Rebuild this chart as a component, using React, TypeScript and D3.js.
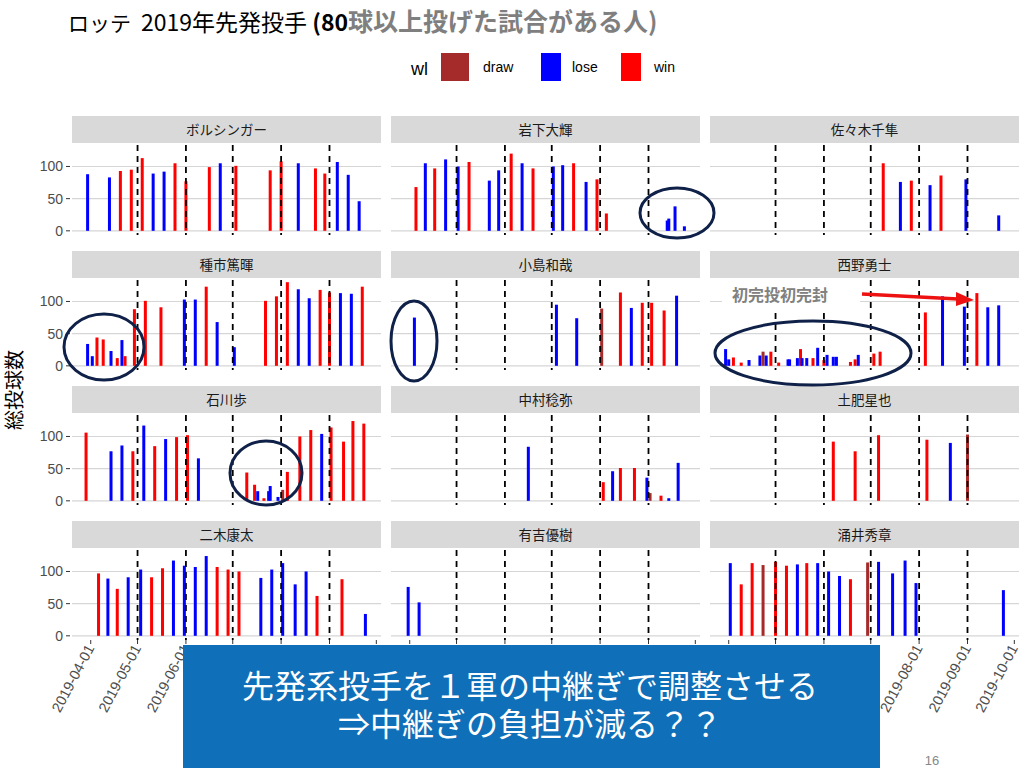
import React from "react";
import * as d3 from "d3";

type Row = [string, number, string];

const pitcherNames = ["ボルシンガー", "岩下大輝", "佐々木千隼", "種市篤暉", "小島和哉", "西野勇士", "石川歩", "中村稔弥", "土肥星也", "二木康太", "有吉優樹", "涌井秀章"];

const bolsinger: Row[] = [["2019-03-30", 88, "lose"], ["2019-04-13", 83, "lose"], ["2019-04-20", 93, "win"], ["2019-04-27", 95, "win"], ["2019-05-04", 113, "win"], ["2019-05-11", 89, "lose"], ["2019-05-18", 92, "lose"], ["2019-05-25", 105, "win"], ["2019-06-01", 77, "win"], ["2019-06-16", 99, "win"], ["2019-06-23", 105, "lose"], ["2019-07-03", 101, "win"], ["2019-07-25", 94, "win"], ["2019-08-01", 108, "win"], ["2019-08-12", 105, "lose"], ["2019-08-23", 97, "win"], ["2019-08-29", 89, "win"], ["2019-09-06", 107, "lose"], ["2019-09-13", 87, "lose"], ["2019-09-20", 46, "lose"]];
const iwashita: Row[] = [["2019-04-05", 68, "win"], ["2019-04-11", 105, "lose"], ["2019-04-17", 97, "win"], ["2019-04-24", 111, "lose"], ["2019-05-02", 100, "lose"], ["2019-05-09", 107, "win"], ["2019-05-22", 78, "lose"], ["2019-05-28", 94, "lose"], ["2019-06-05", 120, "win"], ["2019-06-12", 105, "lose"], ["2019-06-19", 97, "win"], ["2019-07-02", 100, "lose"], ["2019-07-08", 102, "lose"], ["2019-07-15", 105, "win"], ["2019-07-23", 76, "lose"], ["2019-07-30", 80, "win"], ["2019-08-05", 27, "win"], ["2019-09-13", 16, "lose"], ["2019-09-14", 19, "lose"], ["2019-09-18", 38, "lose"], ["2019-09-24", 7, "lose"]];
const sasaki: Row[] = [["2019-07-09", 105, "win"], ["2019-07-20", 76, "lose"], ["2019-07-27", 78, "win"], ["2019-08-08", 71, "lose"], ["2019-08-15", 86, "win"], ["2019-08-31", 80, "lose"], ["2019-09-21", 24, "lose"]];
const taneichi: Row[] = [["2019-03-30", 34, "lose"], ["2019-04-02", 15, "lose"], ["2019-04-05", 44, "win"], ["2019-04-09", 41, "win"], ["2019-04-14", 23, "lose"], ["2019-04-18", 12, "win"], ["2019-04-21", 40, "lose"], ["2019-04-23", 15, "win"], ["2019-04-29", 88, "win"], ["2019-05-06", 101, "win"], ["2019-05-16", 91, "win"], ["2019-05-31", 103, "lose"], ["2019-06-07", 103, "lose"], ["2019-06-14", 123, "win"], ["2019-06-21", 68, "lose"], ["2019-07-02", 29, "lose"], ["2019-07-22", 101, "win"], ["2019-07-29", 108, "win"], ["2019-08-05", 130, "win"], ["2019-08-12", 119, "lose"], ["2019-08-19", 105, "lose"], ["2019-08-26", 118, "win"], ["2019-09-01", 114, "win"], ["2019-09-08", 113, "lose"], ["2019-09-15", 112, "lose"], ["2019-09-22", 123, "win"]];
const kojima: Row[] = [["2019-04-04", 75, "lose"], ["2019-07-04", 95, "lose"], ["2019-07-17", 74, "lose"], ["2019-08-02", 89, "draw"], ["2019-08-14", 114, "win"], ["2019-08-21", 90, "lose"], ["2019-08-28", 98, "win"], ["2019-09-03", 98, "win"], ["2019-09-11", 86, "win"], ["2019-09-19", 109, "lose"]];
const nishino: Row[] = [["2019-03-30", 26, "lose"], ["2019-04-01", 10, "lose"], ["2019-04-04", 13, "win"], ["2019-04-09", 5, "win"], ["2019-04-14", 9, "lose"], ["2019-04-21", 16, "lose"], ["2019-04-23", 22, "draw"], ["2019-04-25", 16, "lose"], ["2019-04-28", 22, "win"], ["2019-05-03", 5, "win"], ["2019-05-09", 10, "lose"], ["2019-05-10", 10, "lose"], ["2019-05-15", 12, "lose"], ["2019-05-17", 26, "win"], ["2019-05-18", 12, "lose"], ["2019-05-21", 12, "lose"], ["2019-05-25", 12, "win"], ["2019-05-28", 28, "lose"], ["2019-06-01", 9, "win"], ["2019-06-03", 17, "lose"], ["2019-06-07", 14, "lose"], ["2019-06-09", 14, "lose"], ["2019-06-18", 6, "win"], ["2019-06-21", 10, "win"], ["2019-06-23", 17, "lose"], ["2019-07-03", 19, "win"], ["2019-07-07", 22, "win"], ["2019-08-05", 83, "win"], ["2019-08-16", 108, "lose"], ["2019-08-30", 92, "lose"], ["2019-09-07", 113, "win"], ["2019-09-14", 91, "lose"], ["2019-09-21", 94, "lose"]];
const ishikawa: Row[] = [["2019-03-29", 106, "win"], ["2019-04-14", 77, "lose"], ["2019-04-21", 86, "lose"], ["2019-04-28", 77, "win"], ["2019-05-05", 117, "lose"], ["2019-05-12", 85, "win"], ["2019-05-19", 96, "lose"], ["2019-05-26", 99, "win"], ["2019-06-02", 102, "win"], ["2019-06-09", 66, "lose"], ["2019-07-10", 44, "win"], ["2019-07-15", 25, "win"], ["2019-07-17", 15, "lose"], ["2019-07-21", 4, "win"], ["2019-07-24", 15, "lose"], ["2019-07-25", 23, "lose"], ["2019-07-30", 6, "lose"], ["2019-08-02", 17, "draw"], ["2019-08-05", 45, "win"], ["2019-08-13", 100, "win"], ["2019-08-20", 110, "win"], ["2019-08-27", 104, "lose"], ["2019-09-02", 114, "win"], ["2019-09-10", 92, "win"], ["2019-09-16", 124, "win"], ["2019-09-23", 120, "win"]];
const nakamura: Row[] = [["2019-06-16", 84, "lose"], ["2019-08-03", 29, "win"], ["2019-08-09", 46, "lose"], ["2019-08-14", 51, "win"], ["2019-08-23", 51, "win"], ["2019-08-31", 36, "lose"], ["2019-09-02", 12, "draw"], ["2019-09-09", 8, "win"], ["2019-09-14", 4, "lose"], ["2019-09-20", 59, "lose"]];
const dohi: Row[] = [["2019-06-07", 92, "win"], ["2019-06-21", 77, "win"], ["2019-07-06", 102, "win"], ["2019-08-06", 95, "win"], ["2019-08-21", 90, "lose"], ["2019-09-01", 103, "draw"]];
const futaki: Row[] = [["2019-04-06", 97, "win"], ["2019-04-12", 89, "lose"], ["2019-04-18", 73, "win"], ["2019-04-25", 91, "lose"], ["2019-05-03", 103, "lose"], ["2019-05-10", 91, "win"], ["2019-05-17", 105, "win"], ["2019-05-24", 117, "lose"], ["2019-05-31", 109, "lose"], ["2019-06-07", 107, "lose"], ["2019-06-14", 124, "lose"], ["2019-06-21", 107, "win"], ["2019-06-28", 103, "win"], ["2019-07-05", 100, "win"], ["2019-07-19", 90, "lose"], ["2019-07-26", 103, "lose"], ["2019-08-02", 113, "lose"], ["2019-08-10", 80, "lose"], ["2019-08-17", 100, "lose"], ["2019-08-24", 62, "win"], ["2019-09-09", 88, "win"], ["2019-09-24", 34, "lose"]];
const ariyoshi: Row[] = [["2019-03-31", 76, "lose"], ["2019-04-07", 52, "lose"]];
const wakui: Row[] = [["2019-04-02", 113, "lose"], ["2019-04-09", 80, "win"], ["2019-04-16", 113, "win"], ["2019-04-23", 110, "draw"], ["2019-05-01", 115, "win"], ["2019-05-08", 109, "win"], ["2019-05-15", 111, "lose"], ["2019-05-21", 113, "win"], ["2019-05-28", 113, "lose"], ["2019-06-04", 100, "lose"], ["2019-06-11", 93, "lose"], ["2019-06-18", 88, "win"], ["2019-06-29", 114, "draw"], ["2019-07-06", 115, "lose"], ["2019-07-15", 97, "lose"], ["2019-07-23", 117, "lose"], ["2019-07-30", 82, "lose"], ["2019-09-24", 71, "lose"]];

const panelData: Row[][] = [bolsinger, iwashita, sasaki, taneichi, kojima, nishino, ishikawa, nakamura, dohi, futaki, ariyoshi, wakui];

const wlLevels = ["draw", "lose", "win"];
const wlColors = ["#a52a2a", "#0000ff", "#ff0000"];
const monthLines = ["2019-05-01", "2019-06-01", "2019-07-01", "2019-08-01", "2019-09-01"];
const xTicks = ["2019-04-01", "2019-05-01", "2019-06-01", "2019-07-01", "2019-08-01", "2019-09-01", "2019-10-01"];
const yTicks = [0, 50, 100];
const dataRange = ["2019-03-29", "2019-09-25"];

// ellipses drawn as annotations: [cx, cy, rx, ry]
const circles: [number, number, number, number][] = [
  [677, 213, 37, 25],
  [104, 347, 40, 33],
  [414, 341, 23, 40],
  [813, 353, 98, 32],
  [266, 473, 36, 32],
];

const FONT = "'Liberation Sans', Arial, 'Noto Sans CJK JP', sans-serif";
const JFONT = "'Noto Sans CJK JP', 'Liberation Sans', sans-serif";

export default function App() {
  const parse = d3.timeParse("%Y-%m-%d");
  const left0 = 72, colStep = 319, panelW = 309;
  const top0 = 143, rowStep = 135, panelH = 92, stripH = 27;

  const d0 = parse(dataRange[0])!.getTime();
  const d1 = parse(dataRange[1])!.getTime();
  const ex = (d1 - d0) * 0.05;
  const x = d3.scaleTime().domain([new Date(d0 - ex), new Date(d1 + ex)]).range([0, panelW]);
  const yMax = d3.max(panelData.flat(), (d) => d[1]) as number;
  const y = d3.scaleLinear().domain([-0.05 * yMax, 1.05 * yMax]).range([panelH, 0]);
  const color = d3.scaleOrdinal<string, string>().domain(wlLevels).range(wlColors);

  const panels = pitcherNames.map((name, i) => {
    const c = i % 3, r = Math.floor(i / 3);
    const px = left0 + c * colStep, py = top0 + r * rowStep;
    return (
      <g key={name}>
        <rect x={px} y={py - stripH} width={panelW} height={stripH} fill="#d9d9d9" />
        <text x={px + panelW / 2} y={py - stripH / 2 + 5} textAnchor="middle" fontSize={13.5} fill="#1a1a1a" fontFamily={JFONT}>{name}</text>
        <g transform={`translate(${px},${py})`}>
          {yTicks.map((t) => (
            <line key={t} x1={0} x2={panelW} y1={y(t)} y2={y(t)} stroke="#d6d6d6" strokeWidth={1.2} />
          ))}
          {panelData[i].map((d, j) => {
            const bx = x(parse(d[0])!);
            return <rect key={j} x={bx - 1.5} y={y(d[1])} width={3} height={y(0) - y(d[1])} fill={color(d[2])} />;
          })}
          {monthLines.map((m) => {
            const lx = x(parse(m)!);
            return <line key={m} x1={lx} x2={lx} y1={2} y2={panelH} stroke="#000" strokeWidth={1.8} strokeDasharray="6,5" />;
          })}
          {c === 0 && yTicks.map((t) => (
            <g key={t}>
              <line x1={-6} x2={-2} y1={y(t)} y2={y(t)} stroke="#333" strokeWidth={1} />
              <text x={-9} y={y(t) + 5} textAnchor="end" fontSize={14} fill="#4d4d4d" fontFamily={FONT}>{t}</text>
            </g>
          ))}
          {r === 3 && xTicks.map((t) => {
            const tx = x(parse(t)!);
            return (
              <g key={t}>
                <line x1={tx} x2={tx} y1={panelH} y2={panelH + 4} stroke="#333" strokeWidth={1} />
                <text transform={`translate(${tx + 4},${panelH + 8}) rotate(-62)`} textAnchor="end" fontSize={14.5} fill="#4d4d4d" fontFamily={FONT}>{t}</text>
              </g>
            );
          })}
        </g>
      </g>
    );
  });

  return (
    <svg width={1024} height={768} style={{ position: "absolute", left: 0, top: 0, background: "#fff" }}>
      <rect width={1024} height={768} fill="#fff" />
      <text x={68} y={31} fontSize={21} fontFamily={JFONT} fill="#000">
        <tspan>ロッテ</tspan>
        <tspan dx={10} fontSize={23}>2019年先発投手 </tspan>
        <tspan fontWeight="bold" fontSize={23}>(80</tspan>
        <tspan fontWeight="bold" fill="#7f7f7f" fontSize={25}>球以上投げた試合がある人)</tspan>
      </text>
      <text x={411} y={75} fontSize={18} fontFamily={FONT} fill="#000">wl</text>
      {wlLevels.map((l, i) => {
        const lx = [441, 541, 621][i];
        const tx = [483, 572, 654][i];
        return (
          <g key={l}>
            <rect x={lx} y={53} width={[28, 20, 20][i]} height={28} fill={wlColors[i]} />
            <text x={tx} y={72} fontSize={14} fontFamily={FONT} fill="#000">{l}</text>
          </g>
        );
      })}
      <text transform="translate(22,390) rotate(-90)" textAnchor="middle" fontSize={20} fontFamily={JFONT} fill="#000">総投球数</text>
      {panels}
      {circles.map((e, i) => (
        <ellipse key={i} cx={e[0]} cy={e[1]} rx={e[2]} ry={e[3]} fill="none" stroke="#0f2148" strokeWidth={3} />
      ))}
      <rect x={722} y={279} width={138} height={29} fill="#fff" />
      <text x={732} y={301} fontSize={16} fontWeight="bold" fill="#808080" fontFamily={JFONT}>初完投初完封</text>
      <line x1={862} y1={294} x2={958} y2={299} stroke="#ee1111" strokeWidth={3.5} />
      <path d="M 974 300 L 956 292 L 956 306 Z" fill="#ee1111" />
      <rect x={183} y={645} width={697} height={123} fill="#0f6fb8" />
      <text x={530} y={698} textAnchor="middle" fontSize={32} fill="#fff" fontFamily={JFONT}>先発系投手を１軍の中継ぎで調整させる</text>
      <text x={530} y={736} textAnchor="middle" fontSize={32} fill="#fff" fontFamily={JFONT}>⇒中継ぎの負担が減る？？</text>
      <text x={932} y={765} textAnchor="middle" fontSize={13} fill="#888" fontFamily={FONT}>16</text>
    </svg>
  );
}
